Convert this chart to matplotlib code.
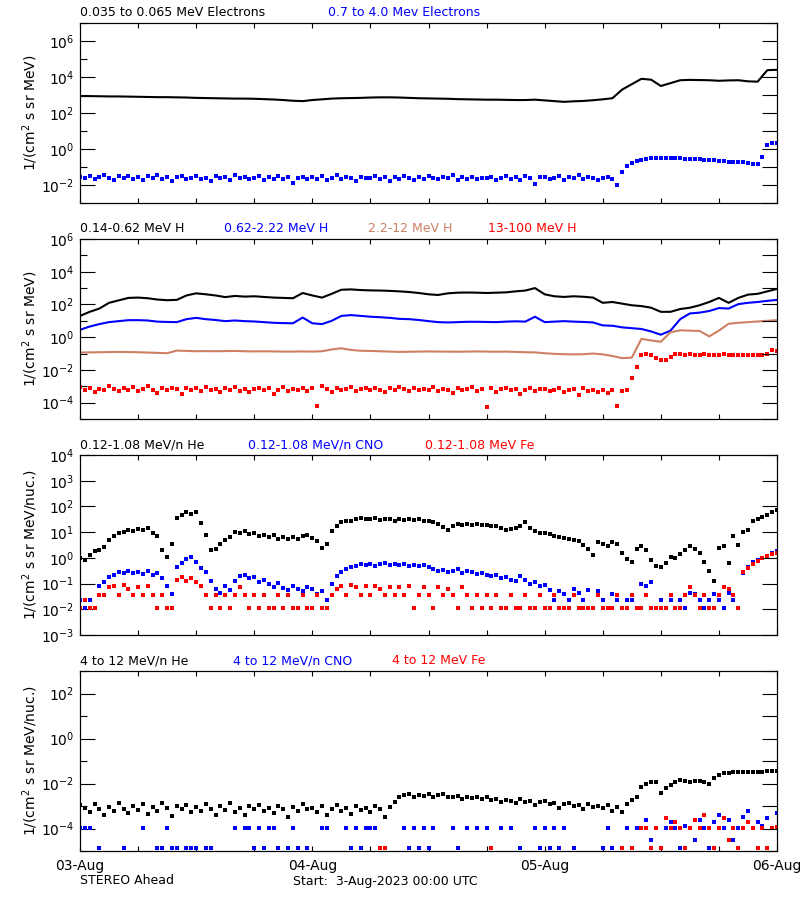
import numpy as np
import matplotlib
matplotlib.use("Agg")
import matplotlib.pyplot as plt
from matplotlib.ticker import FixedLocator, NullLocator, FixedFormatter, NullFormatter

nan = np.nan

# time axis: hours since 3-Aug-2023 00:00 UTC
hours_1h = np.arange(73) * 1.0
hours_30m = np.arange(145) * 0.5

day_ticks = [0, 24, 48, 72]
day_labels = ['03-Aug', '04-Aug', '05-Aug', '06-Aug']

# ---- panel 1: electrons (log10 of flux) ----
e_low = [2.94, 2.94, 2.93, 2.92, 2.92, 2.91, 2.90, 2.89, 2.88, 2.88, 2.87, 2.86,
         2.84, 2.83, 2.82, 2.81, 2.80, 2.80, 2.79, 2.77, 2.75, 2.72, 2.68, 2.66,
         2.72, 2.76, 2.80, 2.82, 2.83, 2.84, 2.86, 2.87, 2.87, 2.86, 2.84, 2.82,
         2.81, 2.80, 2.79, 2.77, 2.76, 2.75, 2.74, 2.74, 2.73, 2.72, 2.72, 2.74,
         2.70, 2.66, 2.62, 2.65, 2.67, 2.71, 2.76, 2.82, 3.30, 3.60, 3.90, 3.85,
         3.50, 3.66, 3.82, 3.84, 3.83, 3.82, 3.79, 3.81, 3.82, 3.76, 3.74, 4.38,
         4.40]

e_high = [-1.55, -1.62, -1.50, -1.68, -1.58, -1.45, -1.63, -1.70, -1.52, -1.60, -1.48, -1.66,
          -1.58, -1.74, -1.50, -1.62, -1.42, -1.66, -1.57, -1.80, -1.55, -1.48, -1.65, -1.60,
          -1.52, -1.68, -1.59, -1.75, -1.50, -1.63, -1.56, -1.70, -1.47, -1.62, -1.58, -1.66,
          -1.61, -1.52, -1.72, -1.58, -1.64, -1.49, -1.68, -1.55, -1.90, -1.60, -1.53, -1.67,
          -1.57, -1.64, -1.50, -1.70, -1.59, -1.46, -1.65, -1.58, -1.62, -1.75, -1.54, -1.60,
          -1.63, -1.51, -1.68, -1.57, -1.80, -1.55, -1.66, -1.49, -1.61, -1.72, -1.58, -1.64,
          -1.50, -1.62, -1.69, -1.55, -1.60, -1.47, -1.71, -1.58, -1.64, -1.53, -1.67, -1.59,
          -1.62, -1.54, -1.73, -1.60, -1.48, -1.66, -1.57, -1.70, -1.52, -1.63, -1.95, -1.58,
          -1.55, -1.68, -1.60, -1.50, -1.72, -1.58, -1.63, -1.46, -1.69, -1.57, -1.62, -1.74,
          -1.60, -1.55, -1.66, -2.00, -1.30, -0.95, -0.78, -0.68, -0.60, -0.55, -0.52, -0.50,
          -0.50, -0.49, -0.51, -0.50, -0.52, -0.53, -0.55, -0.54, -0.57, -0.60, -0.61, -0.63,
          -0.66, -0.68, -0.70, -0.72, -0.74, -0.73, -0.78, -0.82, -0.85, -0.45, 0.20, 0.32,
          0.33]

# ---- panel 2: protons ----
h_014 = [1.30, 1.55, 1.75, 2.10, 2.25, 2.40, 2.42, 2.38, 2.30, 2.26, 2.28, 2.55,
         2.68, 2.62, 2.55, 2.45, 2.52, 2.48, 2.50, 2.46, 2.42, 2.40, 2.38, 2.70,
         2.55, 2.42, 2.65, 2.90, 2.92, 2.88, 2.86, 2.85, 2.83, 2.80, 2.76, 2.70,
         2.62, 2.58, 2.68, 2.72, 2.73, 2.72, 2.70, 2.72, 2.74, 2.80, 2.85, 3.00,
         2.62, 2.50, 2.46, 2.50, 2.47, 2.42, 2.10, 2.15, 2.05, 1.95, 1.90, 1.80,
         1.55, 1.55, 1.72, 1.80, 1.95, 2.15, 2.40, 2.10, 2.40, 2.60, 2.65, 2.80,
         2.95]

h_062 = [0.45, 0.65, 0.80, 0.92, 0.98, 1.04, 1.04, 1.02, 0.95, 0.93, 0.92, 1.10,
         1.18, 1.10, 1.05, 0.98, 1.02, 0.98, 0.96, 0.92, 0.88, 0.86, 0.85, 1.20,
         0.85, 0.80, 1.00, 1.30, 1.35, 1.30, 1.25, 1.22, 1.18, 1.12, 1.10, 1.05,
         0.98, 0.92, 0.90, 0.92, 0.94, 0.94, 0.93, 0.92, 0.95, 0.97, 0.95, 1.25,
         0.92, 0.95, 0.98, 0.95, 0.93, 0.90, 0.72, 0.70, 0.60, 0.55, 0.50, 0.35,
         0.15, 0.40, 1.10, 1.45, 1.50, 1.60, 1.78, 1.75, 2.02, 2.10, 2.15, 2.22,
         2.28]

h_22 = [-0.94, -0.93, -0.92, -0.91, -0.90, -0.91, -0.92, -0.94, -0.96, -0.98, -0.82, -0.84,
        -0.86, -0.85, -0.86, -0.85, -0.84, -0.86, -0.87, -0.86, -0.87, -0.88, -0.88, -0.87,
        -0.88, -0.86, -0.75, -0.68, -0.78, -0.83, -0.84, -0.86, -0.88, -0.90, -0.89, -0.88,
        -0.87, -0.88, -0.88, -0.89, -0.88, -0.87, -0.88, -0.89, -0.88, -0.90, -0.92, -0.93,
        -0.98, -1.02, -1.04, -1.05, -1.04, -1.00, -1.05, -1.15, -1.28, -1.25, -0.10, -0.20,
        -0.28, 0.30, 0.42, 0.40, 0.38, 0.05, 0.40, 0.82, 0.88, 0.92, 0.96, 1.00,
        1.04]

h_13 = [-3.05, -3.20, -3.10, -3.35, -3.15, -3.25, -3.00, -3.18, -3.30, -3.12, -3.22, -3.05,
        -3.28, -3.15, -2.98, -3.20, -3.40, -3.10, -3.25, -3.08, -3.18, -3.50, -3.12, -3.22,
        -3.10, -3.30, -3.05, -3.20, -3.15, -3.38, -3.12, -3.22, -3.02, -3.28, -3.15, -3.35,
        -3.18, -3.08, -3.25, -3.12, -3.45, -3.20, -3.05, -3.30, -3.15, -3.22, -3.10, -3.28,
        -3.12, -4.20, -3.00, -3.18, -3.32, -3.10, -3.22, -3.15, -3.05, -3.28, -3.18, -3.12,
        -3.25, -3.08, -3.20, -3.35, -3.12, -3.22, -3.05, -3.18, -3.30, -3.10, -3.25, -3.15,
        -3.20, -3.02, -3.28, -3.15, -3.22, -3.40, -3.10, -3.25, -3.18, -3.05, -3.30, -3.15,
        -4.25, -3.12, -3.35, -3.18, -3.08, -3.25, -3.15, -3.45, -3.20, -3.10, -3.28, -3.18,
        -3.15, -3.30, -3.22, -3.10, -3.38, -3.25, -3.18, -3.55, -3.12, -3.28, -3.20, -3.35,
        -3.22, -3.40, -3.25, -4.20, -3.30, -3.20, -2.50, -1.80, -1.10, -1.05, -1.10, -1.30,
        -1.40, -1.38, -1.20, -1.05, -1.04, -1.06, -1.05, -1.07, -1.06, -1.05, -1.08, -1.07,
        -1.06, -1.05, -1.06, -1.08, -1.06, -1.07, -1.08, -1.09, -1.10, -1.08, -1.00, -0.80,
        -0.85]

# ---- panel 3: 0.12-1.08 MeV/n ions ----
he_lo = [0.00, -0.10, 0.12, 0.25, 0.30, 0.42, 0.70, 0.85, 0.95, 1.02, 1.08, 1.05,
         1.12, 1.10, 1.15, 0.95, 0.85, 0.30, 0.05, 0.55, 1.55, 1.65, 1.78, 1.72,
         1.80, 1.35, 0.90, 0.30, 0.35, 0.55, 0.70, 0.80, 1.02, 0.98, 1.05, 0.92,
         0.95, 0.85, 0.88, 0.80, 0.90, 0.75, 0.82, 0.72, 0.80, 0.75, 0.85, 0.90,
         0.78, 0.65, 0.40, 0.55, 1.05, 1.25, 1.40, 1.45, 1.42, 1.50, 1.55, 1.52,
         1.50, 1.55, 1.48, 1.52, 1.50, 1.45, 1.50, 1.46, 1.52, 1.48, 1.50, 1.42,
         1.45, 1.38, 1.32, 1.20, 1.10, 1.25, 1.30, 1.28, 1.32, 1.26, 1.30, 1.27,
         1.28, 1.22, 1.25, 1.15, 1.10, 1.12, 1.18, 1.22, 1.40, 1.15, 1.05, 0.98,
         0.95, 0.92, 0.85, 0.82, 0.78, 0.75, 0.68, 0.65, 0.50, 0.35, 0.10, 0.60,
         0.55, 0.45, 0.62, 0.55, 0.20, -0.05, -0.15, 0.35, 0.45, 0.30, -0.10, -0.30,
         -0.35, -0.20, 0.05, 0.00, 0.15, 0.30, 0.45, 0.35, 0.20, -0.15, -0.50, -0.90,
         0.40, 0.45, -0.20, 0.85, 0.50, 1.00, 1.10, 1.45, 1.50, 1.58, 1.68, 1.80,
         1.88]

cno_lo = [-1.63, -1.96, -1.63, -1.96, -1.10, -0.95, -0.75, -0.65, -0.55, -0.60, -0.50, -0.58,
          -0.55, -0.62, -0.52, -0.68, -0.60, -0.80, -1.10, -1.40, -0.35, -0.20, -0.05, 0.05,
          -0.15, -0.40, -0.55, -0.90, -1.20, -1.35, -1.10, -1.25, -0.90, -0.72, -0.68, -0.80,
          -0.75, -0.92, -0.85, -1.00, -1.12, -0.98, -1.18, -1.25, -1.10, -1.22, -1.30, -1.15,
          -1.20, -1.40, -1.30, -1.63, -1.00, -0.72, -0.55, -0.45, -0.35, -0.30, -0.25, -0.28,
          -0.22, -0.30, -0.25, -0.20, -0.28, -0.24, -0.27, -0.22, -0.30, -0.26, -0.32, -0.28,
          -0.35, -0.42, -0.50, -0.48, -0.55, -0.52, -0.45, -0.58, -0.50, -0.55, -0.62, -0.58,
          -0.65, -0.72, -0.68, -0.80, -0.75, -0.85, -0.90, -0.70, -0.88, -1.00, -0.95, -1.10,
          -1.05, -1.25, -1.63, -1.30, -1.40, -1.63, -1.20, -1.35, -1.63, -1.25, -1.96, -1.30,
          -1.63, -1.96, -1.40, -1.63, -1.96, -1.63, -1.63, -1.96, -1.00, -1.10, -0.95, -1.96,
          -1.63, -1.96, -1.63, -1.96, -1.63, -1.96, -1.35, -1.40, -1.63, -1.96, -1.63, -1.40,
          -1.63, -1.96, -1.35, -1.63, -1.96, -0.58, -0.35, -0.15, -0.08, 0.00, 0.08, 0.20,
          0.25]

fe_lo = [-1.96, -1.63, -1.96, -1.96, -1.44, -1.44, -1.15, -1.10, -1.44, -1.05, -1.20, -1.44,
         -1.12, -1.44, -1.08, -1.44, -1.96, -1.44, -1.96, -1.96, -0.85, -0.75, -0.90, -0.80,
         -0.95, -1.10, -1.44, -1.96, -1.44, -1.96, -1.44, -1.96, -1.44, -1.12, -1.44, -1.96,
         -1.44, -1.96, -1.44, -1.96, -1.96, -1.44, -1.96, -1.44, -1.96, -1.96, -1.44, -1.96,
         -1.96, -1.44, -1.96, -1.96, -1.44, -1.20, -1.10, -1.44, -1.05, -1.15, -1.44, -1.10,
         -1.44, -1.08, -1.20, -1.44, -1.12, -1.44, -1.15, -1.44, -1.10, -1.96, -1.44, -1.15,
         -1.44, -1.96, -1.12, -1.44, -1.20, -1.44, -1.96, -1.15, -1.44, -1.96, -1.44, -1.96,
         -1.44, -1.96, -1.44, -1.96, -1.96, -1.44, -1.96, -1.96, -1.44, -1.96, -1.96, -1.44,
         -1.96, -1.96, -1.44, -1.96, -1.96, -1.96, -1.44, -1.96, -1.96, -1.96, -1.96, -1.44,
         -1.96, -1.96, -1.96, -1.44, -1.96, -1.96, -1.44, -1.96, -1.96, -1.44, -1.96, -1.96,
         -1.96, -1.96, -1.44, -1.96, -1.96, -1.44, -1.12, -1.44, -1.96, -1.44, -1.96, -1.96,
         -1.44, -1.15, -1.20, -1.44, -1.96, -0.55, -0.40, -0.22, -0.12, -0.02, 0.08, 0.15,
         0.20]

# ---- panel 4: 4-12 MeV/n ions ----
he_hi = [-2.95, -3.10, -3.25, -2.90, -3.15, -3.40, -3.05, -3.20, -2.85, -3.12, -3.30, -3.00,
         -3.18, -2.92, -3.35, -3.05, -3.22, -2.88, -3.10, -3.45, -3.00, -3.15, -2.95, -3.28,
         -3.05, -3.20, -2.90, -3.12, -3.38, -3.02, -3.18, -2.85, -3.25, -3.08, -3.40, -3.00,
         -3.15, -2.95, -3.22, -3.10, -3.30, -2.98, -3.12, -3.50, -3.05, -3.20, -2.92, -3.15,
         -3.08, -3.25, -3.00, -3.42, -3.12, -2.95, -3.20, -3.08, -3.35, -3.02, -3.18, -3.10,
         -3.25, -3.00, -3.15, -3.50, -3.05, -2.80, -2.60, -2.52, -2.48, -2.58, -2.50, -2.55,
         -2.48, -2.60, -2.52, -2.45, -2.58, -2.62, -2.55, -2.68, -2.60, -2.65, -2.58, -2.70,
         -2.62, -2.75, -2.68, -2.80, -2.72, -2.78, -2.85, -2.70, -2.82, -2.76, -2.95, -2.80,
         -2.78, -2.90, -2.85, -3.10, -2.92, -2.88, -3.00, -2.95, -3.15, -2.90, -3.05, -2.98,
         -3.10, -2.95, -3.20, -3.05, -3.25, -2.90, -2.75, -2.62, -2.15, -2.00, -1.92, -1.95,
         -2.40, -2.20, -2.05, -1.95, -1.85, -1.88, -1.92, -1.90, -1.88, -1.95, -2.02, -1.75,
         -1.62, -1.55, -1.52, -1.50, -1.49, -1.48, -1.50, -1.49, -1.48, -1.47, -1.46, -1.45,
         -1.44]

cno_hi = [-3.97, -3.97, -3.97, nan, -4.86, nan, nan, nan, nan, -4.86, nan, nan,
          nan, -3.97, nan, nan, -4.86, -4.86, -3.97, -4.86, -4.86, nan, -4.86, -4.86,
          -4.86, nan, -4.86, -4.86, nan, nan, nan, nan, -3.97, nan, -3.97, -3.97,
          -4.86, -3.97, -4.86, -3.97, -3.97, -4.86, nan, -4.86, -3.97, -4.86, nan, -4.86,
          nan, nan, -3.97, -3.97, nan, nan, nan, -3.97, -4.86, -3.97, -4.86, -3.97,
          -3.97, -3.97, nan, nan, nan, nan, nan, -3.97, -4.86, -3.97, -4.86, -3.97,
          -4.86, -3.97, nan, nan, nan, -3.97, -4.86, nan, -3.97, nan, -3.97, nan,
          -3.97, nan, nan, -3.97, nan, -3.97, nan, -4.86, nan, nan, -3.97, -4.86,
          -3.97, -4.86, -3.97, -4.86, -3.97, nan, -4.86, nan, nan, nan, nan, nan,
          -4.86, -3.97, -4.86, nan, nan, -3.97, nan, -3.97, -3.97, -3.62, -4.50, -3.97,
          -4.86, -3.97, -3.70, -3.97, -4.86, -3.90, -3.97, -4.50, -3.60, -3.97, -4.86, -3.70,
          -3.40, -3.97, -3.60, -4.50, -3.97, -3.50, -3.20, -3.97, -3.70, -3.90, -3.55, -3.97,
          -3.30]

fe_hi = [nan] * 62 + [
    -4.86, -4.86, nan, nan, nan, nan, nan, nan, nan, nan,
    nan, nan, nan, nan, nan, nan, nan, nan, nan, nan, nan, nan,
    nan, -4.86, nan, nan, nan, nan, nan, nan, nan, nan, nan, nan,
    nan, nan, nan, nan, nan, nan, nan, nan, nan, nan, nan, nan,
    nan, nan, nan, nan, -4.86, nan, -4.86, nan, -3.97, -3.97, -4.86, -3.97,
    -4.86, -3.55, -3.97, -3.70, -3.97, -4.86, -3.97, -3.60, -3.97, -3.40, -3.97, -4.86,
    -3.97, -3.55, -4.50, -3.97, -4.86, -3.97, -3.70, -3.97, -4.86, -3.97, -4.86, -3.97,
    -3.95]

BROWN = '#CD8064'
FS = 9

fig = plt.figure(figsize=(8, 9), dpi=100)


def make_panel(bottom_px, ymin, ymax, labeled, ylabel, show_x):
    ax = fig.add_axes([80 / 800, 1 - bottom_px / 900, 697 / 800, 180 / 900])
    ax.set_yscale('log')
    ax.set_ylim(10.0 ** ymin, 10.0 ** ymax)
    ax.set_xlim(0, 72)
    decades = list(range(ymin, ymax + 1))
    major = [10.0 ** d for d in decades if d in labeled]
    minor = [10.0 ** d for d in decades if d not in labeled]
    ax.yaxis.set_major_locator(FixedLocator(major))
    ax.yaxis.set_major_formatter(FixedFormatter(
        [r'$10^{%d}$' % d for d in decades if d in labeled]))
    ax.yaxis.set_minor_locator(FixedLocator(minor))
    ax.yaxis.set_minor_formatter(NullFormatter())
    ax.tick_params(axis='y', which='major', direction='in', length=10.8,
                   width=0.8, labelsize=FS + 1, pad=4, right=False)
    ax.tick_params(axis='y', which='minor', direction='in', length=5,
                   width=0.8, right=False)
    ax.xaxis.set_major_locator(FixedLocator(day_ticks))
    ax.xaxis.set_minor_locator(FixedLocator([6, 12, 18, 30, 36, 42, 54, 60, 66]))
    ax.tick_params(axis='x', which='both', direction='in', length=3.6,
                   width=0.8, top=True, labelsize=FS + 1, pad=6)
    if show_x:
        ax.set_xticklabels(day_labels)
    else:
        ax.set_xticklabels([])
    ax.set_ylabel(ylabel, fontsize=FS + 1)
    ax.yaxis.set_label_coords(-0.057, 0.5)
    for s in ax.spines.values():
        s.set_linewidth(0.8)

    axr = ax.twinx()
    axr.set_yscale('log')
    axr.set_ylim(ax.get_ylim())
    axr.yaxis.set_major_locator(FixedLocator([10.0 ** d for d in decades]))
    axr.yaxis.set_minor_locator(NullLocator())
    axr.yaxis.set_major_formatter(NullFormatter())
    axr.tick_params(axis='y', direction='in', length=10.8, width=0.8,
                    labelright=False)
    return ax


def titles(ax, parts):
    for xpx, txt, col in parts:
        ax.text((xpx - 80) / 697, 1 + 10 / 180, txt, color=col, fontsize=FS,
                transform=ax.transAxes, ha='left', va='center')


def dots(ax, t, v, col):
    ax.plot(t, 10.0 ** np.asarray(v, dtype=float), 's', ms=2.6, mew=0,
            color=col, zorder=3)


def line(ax, t, v, col):
    ax.plot(t, 10.0 ** np.asarray(v, dtype=float), '-', lw=1.5,
            color=col, zorder=3)


ylab_mev = r'1/(cm$^2$ s sr MeV)'
ylab_nuc = r'1/(cm$^2$ s sr MeV/nuc.)'

# panel 1
ax1 = make_panel(203, -3, 7, [-2, 0, 2, 4, 6], ylab_mev, False)
line(ax1, hours_1h, e_low, 'black')
dots(ax1, hours_30m, e_high, 'blue')
titles(ax1, [(80, '0.035 to 0.065 MeV Electrons', 'black'),
             (328, '0.7 to 4.0 Mev Electrons', 'blue')])

# panel 2
ax2 = make_panel(419, -5, 6, [-4, -2, 0, 2, 4, 6], ylab_mev, False)
line(ax2, hours_1h, h_014, 'black')
line(ax2, hours_1h, h_062, 'blue')
line(ax2, hours_1h, h_22, BROWN)
dots(ax2, hours_30m, h_13, 'red')
titles(ax2, [(80, '0.14-0.62 MeV H', 'black'),
             (224, '0.62-2.22 MeV H', 'blue'),
             (368, '2.2-12 MeV H', BROWN),
             (488, '13-100 MeV H', 'red')])

# panel 3
ax3 = make_panel(635, -3, 4, [-3, -2, -1, 0, 1, 2, 3, 4], ylab_nuc, False)
dots(ax3, hours_30m, he_lo, 'black')
dots(ax3, hours_30m, cno_lo, 'blue')
dots(ax3, hours_30m, fe_lo, 'red')
titles(ax3, [(80, '0.12-1.08 MeV/n He', 'black'),
             (248, '0.12-1.08 MeV/n CNO', 'blue'),
             (425, '0.12-1.08 MeV Fe', 'red')])

# panel 4
ax4 = make_panel(851, -5, 3, [-4, -2, 0, 2], ylab_nuc, True)
dots(ax4, hours_30m, he_hi, 'black')
dots(ax4, hours_30m, cno_hi, 'blue')
dots(ax4, hours_30m, fe_hi, 'red')
titles(ax4, [(80, '4 to 12 MeV/n He', 'black'),
             (233, '4 to 12 MeV/n CNO', 'blue'),
             (392, '4 to 12 MeV Fe', 'red')])

fig.text(80 / 800, 1 - 881 / 900, 'STEREO Ahead', fontsize=FS, va='center')
fig.text(293 / 800, 1 - 881 / 900, 'Start:  3-Aug-2023 00:00 UTC',
         fontsize=FS, va='center')

fig.savefig('out.png', dpi=100)
